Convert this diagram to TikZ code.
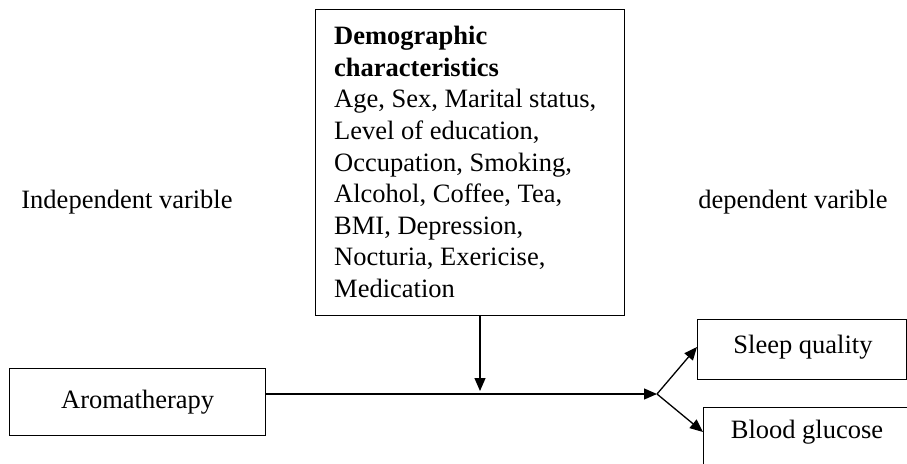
\documentclass[tikz,border=0pt]{standalone}
\usepackage{fontspec}
\setmainfont{Liberation Serif}
\usetikzlibrary{arrows.meta,calc}
\begin{document}
\begin{tikzpicture}[x=1pt,y=-1pt,
  box/.style={draw, line width=1.3pt, inner sep=0pt},
  lbl/.style={inner sep=0pt, font=\fontsize{26.5}{31.6}\selectfont},
  arr/.style={line width=1.3pt, -{Triangle[length=13pt,width=11pt]}}]
\useasboundingbox (0,0) rectangle (907,463);
% boxes
\node[box, anchor=north west, minimum width=309pt, minimum height=306pt] (demo) at (315,9) {};
\node[lbl, anchor=west, align=left] (demotext) at (334,162)
  {\textbf{Demographic}\\\textbf{characteristics}\\Age, Sex, Marital status,\\Level of education,\\Occupation, Smoking,\\Alcohol, Coffee, Tea,\\BMI, Depression,\\Nocturia, Exericise,\\Medication};
\node[box, anchor=north west, minimum width=256pt, minimum height=67pt, lbl] (aroma) at (9,368) {Aromatherapy};
\node[box, anchor=north west, minimum width=208.5pt, minimum height=60pt] (sleep) at (697,319) {};
\node[lbl] (sleeptext) at (803,347) {Sleep quality};
\node[box, anchor=north west, minimum width=210pt, minimum height=70pt] (blood) at (703,407) {};
\node[lbl] (bloodtext) at (807,432) {Blood glucose};
% labels
\node[lbl] (indep) at (127,202) {Independent varible};
\node[lbl] (dep) at (793,202) {dependent varible};
% connectors
\coordinate (fork) at (657,394);
\coordinate (mid) at (480,394);
\draw[arr] (aroma.east |- fork) -- (fork);
\draw[arr, shorten >=3pt] (demo.south -| mid) -- (mid);
\draw[arr] (fork) -- (sleep.west |- sleeptext);
\draw[arr] (fork) -- (blood.west |- bloodtext);
\end{tikzpicture}
\end{document}
